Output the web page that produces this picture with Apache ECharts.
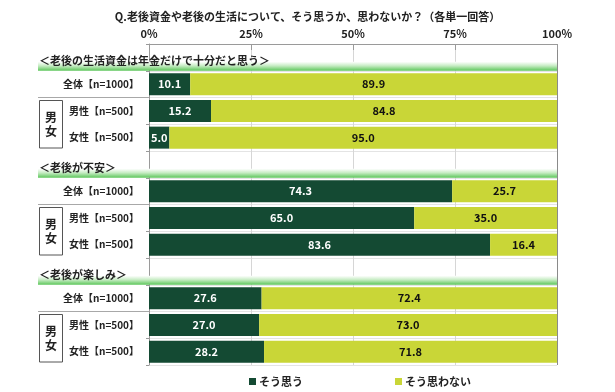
<!DOCTYPE html>
<html><head><meta charset="utf-8">
<script src="https://cdn.jsdelivr.net/npm/echarts@6/dist/echarts.min.js"></script>
<style>html,body{margin:0;padding:0;background:#fff}#c{width:615px;height:392px}</style>
</head><body><div id="c"></div>
<script>
const titleText = 'Q.老後資金や老後の生活について、そう思うか、思わないか？（各単一回答）';
const categories = [
  '＜老後の生活資金は年金だけで十分だと思う＞', '全体【n=1000】', '男性【n=500】', '女性【n=500】',
  '＜老後が不安＞', '全体【n=1000】', '男性【n=500】', '女性【n=500】',
  '＜老後が楽しみ＞', '全体【n=1000】', '男性【n=500】', '女性【n=500】'
];
const headerRows = [0, 4, 8];
const genderGroups = [[2, 3], [6, 7], [10, 11]];
const agree    = ['-', 10.1, 15.2, 5.0, '-', 74.3, 65.0, 83.6, '-', 27.6, 27.0, 28.2];
const disagree = ['-', 89.9, 84.8, 95.0, '-', 25.7, 35.0, 16.4, '-', 72.4, 73.0, 71.8];
const seriesNames = ['そう思う', 'そう思わない'];
const xTicks = [0, 25, 50, 75, 100];

const FONT = '"Noto Sans CJK JP", "Noto Sans", sans-serif';
const chart = echarts.init(document.getElementById('c'));

chart.setOption({
  animation: false,
  textStyle: { fontFamily: FONT },
  title: {
    text: titleText, left: 'center', top: 6,
    textStyle: { fontSize: 11, fontWeight: 'bold', color: '#222', fontFamily: FONT }
  },
  legend: {
    data: seriesNames, top: 371, left: 244, itemGap: 92,
    itemWidth: 7, itemHeight: 7, icon: 'rect',
    textStyle: { fontSize: 11, fontWeight: 'bold', color: '#222', padding: [0, 0, 0, -2] }
  },
  grid: { left: 149, right: 58, top: 44, bottom: 27, containLabel: false },
  xAxis: {
    type: 'value', position: 'top', min: xTicks[0], max: xTicks[xTicks.length - 1], interval: 25,
    axisLabel: { formatter: '{value}%', fontSize: 11, fontWeight: 'bold', color: '#222', margin: 5 },
    axisLine: { show: true, lineStyle: { color: '#9a9a9a', width: 1 } },
    axisTick: { show: true, inside: true, length: 6, lineStyle: { color: '#9a9a9a' } },
    splitLine: { show: true, lineStyle: { color: ['#9a9a9a', '#d6d6d6', '#d6d6d6', '#d6d6d6', '#8a8a8a'], width: 1 } }
  },
  yAxis: {
    type: 'category', inverse: true, data: categories,
    axisLine: { show: true, lineStyle: { color: '#9a9a9a' } },
    axisTick: { show: true, length: 3, lineStyle: { color: '#9a9a9a' } },
    splitLine: { show: true, lineStyle: { color: '#e4e4e4' } },
    axisLabel: {
      margin: 10, fontSize: 10, fontWeight: 'bold', color: '#222',
      formatter: (v, i) => headerRows.includes(i) ? '' : v
    }
  },
  series: [
    {
      name: seriesNames[0], type: 'bar', stack: 'a', barWidth: 22,
      itemStyle: { color: '#144a33' },
      label: { show: true, position: 'inside', color: '#fff', fontSize: 11, fontWeight: 'bold',
        formatter: p => Number(p.value).toFixed(1) },
      data: agree
    },
    {
      name: seriesNames[1], type: 'bar', stack: 'a', barWidth: 22,
      itemStyle: { color: '#c9d637' },
      label: { show: true, position: 'inside', color: '#111', fontSize: 11, fontWeight: 'bold',
        formatter: p => Number(p.value).toFixed(1) },
      data: disagree
    },
    {
      type: 'custom', name: 'headers', clip: false, silent: true, z: 5,
      encode: { x: 0, y: 1 },
      data: headerRows.map(i => [0, i]),
      renderItem: (params, api) => {
        const cs = params.coordSys;
        const idx = api.value(1);
        const c = api.coord([0, idx]);
        const band = api.size([0, 1])[1];
        const bottom = c[1] + band / 2;
        const x0 = cs.x - 111;
        return {
          type: 'group',
          children: [
            { type: 'rect', shape: { x: x0, y: bottom - 9, width: cs.x + cs.width - x0, height: 9 },
              style: { fill: new echarts.graphic.LinearGradient(0, 0, 0, 1, [
                { offset: 0, color: 'rgba(255,255,255,1)' },
                { offset: 0.45, color: '#c6ecc3' },
                { offset: 1, color: '#5cc65a' }]) } },
            { type: 'text', x: x0 + 1, y: bottom - 10,
              style: { text: categories[idx], fontSize: 11, fontWeight: 'bold', fill: '#222',
                fontFamily: FONT, verticalAlign: 'middle', align: 'left' } }
          ]
        };
      }
    },
    {
      type: 'custom', name: 'groups', clip: false, silent: true, z: 5,
      encode: { x: 0, y: 1 },
      data: genderGroups.map(g => [0, g[0], g[1]]),
      renderItem: (params, api) => {
        const cs = params.coordSys;
        const band = api.size([0, 1])[1];
        const top = api.coord([0, api.value(1)])[1] - band / 2;
        const bot = api.coord([0, api.value(2)])[1] + band / 2;
        const x0 = cs.x - 110;
        return {
          type: 'group',
          children: [
            { type: 'line', shape: { x1: cs.x - 111, y1: top, x2: cs.x, y2: top },
              style: { stroke: '#a8a8a8', lineWidth: 1 } },
            { type: 'rect', shape: { x: x0 + 0.5, y: top + 3, width: 23, height: bot - top - 6 },
              style: { fill: '#fff', stroke: '#555', lineWidth: 1 } },
            { type: 'text', x: x0 + 12, y: (top + bot) / 2,
              style: { text: '男\n女', fontSize: 12, fontWeight: 'bold', fill: '#222', lineHeight: 14,
                fontFamily: FONT, align: 'center', verticalAlign: 'middle' } }
          ]
        };
      }
    }
  ]
});
</script></body></html>
